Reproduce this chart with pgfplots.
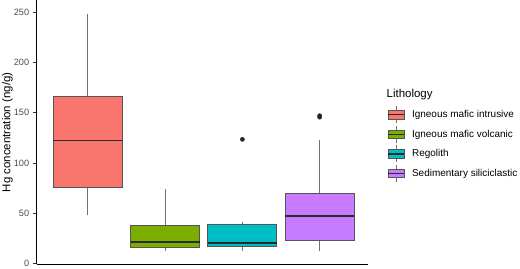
\documentclass[border=0pt]{standalone}
\usepackage{fontspec}
\setmainfont{Liberation Sans}
\usepackage{pgfplots}
\pgfplotsset{compat=1.18}
\definecolor{cR}{HTML}{F8766D}
\definecolor{cG}{HTML}{7CAE00}
\definecolor{cC}{HTML}{00BFC4}
\definecolor{cP}{HTML}{C77CFF}
\definecolor{boxline}{HTML}{555555}
\definecolor{whisk}{HTML}{707070}
\definecolor{medline}{HTML}{2A2A2A}
\definecolor{ticklab}{HTML}{4D4D4D}
\pgfplotsset{
  boxkey/.style={legend image code/.code={
    \draw[draw=whisk,line width=0.8bp] (7.8bp,-8.5bp)--(7.8bp,8.5bp);
    \draw[fill=#1,draw=boxline,line width=0.8bp] (0bp,-4.2bp) rectangle (15.6bp,4.2bp);
    \draw[draw=medline,line width=1.4bp] (0bp,0bp)--(15.6bp,0bp);
  }},
  whiskstyle/.style={draw=whisk, line width=0.8bp, no marks, forget plot},
  boxstyle/.style={fill=#1, draw=boxline, line width=0.8bp, no marks, forget plot},
  medstyle/.style={draw=medline, line width=1.7bp, no marks, forget plot},
}
\begin{document}
\begin{tikzpicture}
\useasboundingbox (0,0) rectangle (520bp,269bp);
\begin{axis}[
  at={(36.7bp,4.7bp)}, anchor=south west,
  scale only axis, width=331.6bp, height=263.8bp,
  xmin=0.3377, xmax=4.630, ymin=-0.6, ymax=261.4,
  axis x line*=bottom, axis y line*=left,
  axis line style={black, line width=0.6bp, -},
  xtick=\empty,
  ytick={0,50,...,250},
  tick align=outside, major tick length=4bp,
  y tick style={color=black!80, line width=0.6bp},
  yticklabel style={font=\fontsize{9.2}{10}\selectfont, text=ticklab},
  /pgf/number format/assume math mode=true,
  ylabel={Hg concentration (ng/g)},
  ylabel style={font=\fontsize{11.5}{13}\selectfont, at={(axis description cs:-0.0886,0.5)}, anchor=center},
  unbounded coords=jump,
  legend style={at={(axis description cs:1.0585,0.6008)}, anchor=north west, draw=none, fill=none,
    inner sep=0pt, outer sep=0pt, font=\fontsize{10}{12}\selectfont, row sep=1.8bp,
    nodes={inner sep=0pt},
    /tikz/every odd column/.append style={column sep=7.4bp}},
  legend cell align=left,
]
\addlegendimage{boxkey=cR}\addlegendentry{Igneous mafic intrusive}
\addlegendimage{boxkey=cG}\addlegendentry{Igneous mafic volcanic}
\addlegendimage{boxkey=cC}\addlegendentry{Regolith}
\addlegendimage{boxkey=cP}\addlegendentry{Sedimentary siliciclastic}

% Igneous mafic intrusive: whiskers 48.4 / 248.3, Q1 75.5, median 122.5, Q3 166.2
\addplot[whiskstyle] coordinates {(1,48.4) (1,75.5) (1,nan) (1,166.2) (1,248.3)};
\addplot[boxstyle=cR] coordinates {(0.5535,75.5) (1.4465,75.5) (1.4465,166.2) (0.5535,166.2)} --cycle;
\addplot[medstyle] coordinates {(0.5535,122.5) (1.4465,122.5)};

% Igneous mafic volcanic: 12.9 / 73.9, Q1 15.9, median 21.8, Q3 38.4
\addplot[whiskstyle] coordinates {(2,12.9) (2,15.9) (2,nan) (2,38.4) (2,73.9)};
\addplot[boxstyle=cG] coordinates {(1.5535,15.9) (2.4465,15.9) (2.4465,38.4) (1.5535,38.4)} --cycle;
\addplot[medstyle] coordinates {(1.5535,21.8) (2.4465,21.8)};

% Regolith: 12.3 / 41.7, Q1 16.9, median 20.9, Q3 39.4
\addplot[whiskstyle] coordinates {(3,12.3) (3,16.9) (3,nan) (3,39.4) (3,41.7)};
\addplot[boxstyle=cC] coordinates {(2.5535,16.9) (3.4465,16.9) (3.4465,39.4) (2.5535,39.4)} --cycle;
\addplot[medstyle] coordinates {(2.5535,20.9) (3.4465,20.9)};

% Sedimentary siliciclastic: 12.9 / 122.8, Q1 22.9, median 47.4, Q3 69.9
\addplot[whiskstyle] coordinates {(4,12.9) (4,22.9) (4,nan) (4,69.9) (4,122.8)};
\addplot[boxstyle=cP] coordinates {(3.5535,22.9) (4.4465,22.9) (4.4465,69.9) (3.5535,69.9)} --cycle;
\addplot[medstyle] coordinates {(3.5535,47.4) (4.4465,47.4)};

% outliers
\addplot[only marks, mark=*, mark size=2.1bp, mark options={fill=black!85, draw=black!85}, forget plot]
  coordinates {(3,123.5) (4,145.5) (4,147)};
\end{axis}
\node[anchor=base west, font=\fontsize{11.5}{13}\selectfont, inner sep=0pt] at (386.5bp,171.7bp) {Lithology};
\end{tikzpicture}
\end{document}
